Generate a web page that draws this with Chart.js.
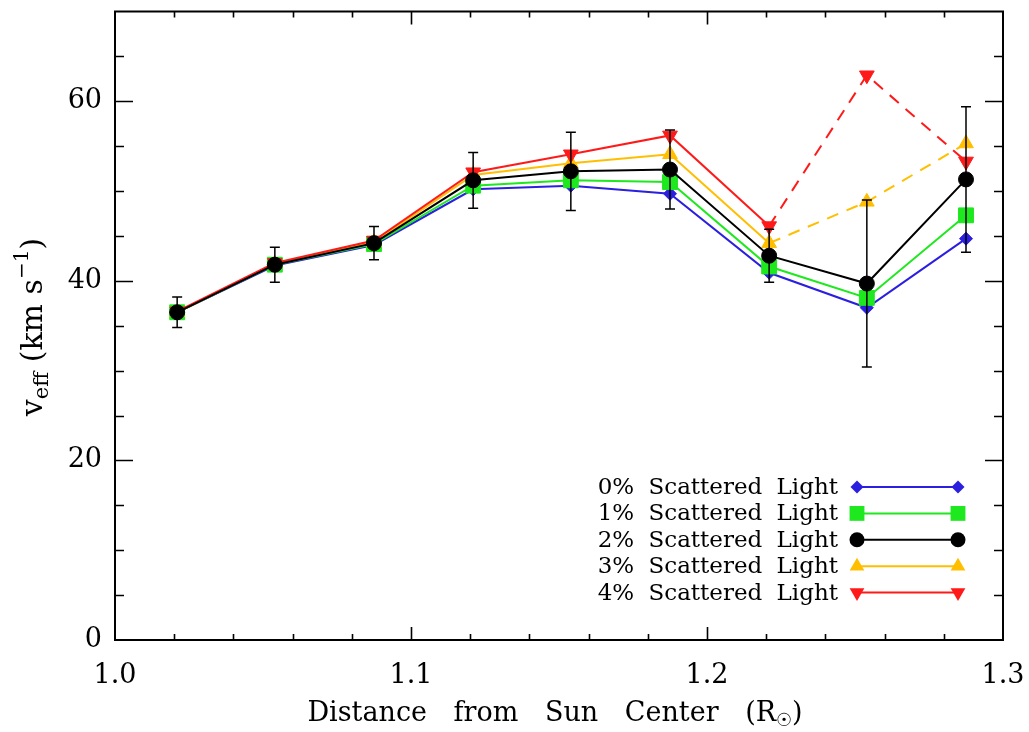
<!DOCTYPE html>
<html>
<head>
<meta charset="utf-8">
<script src="https://cdn.jsdelivr.net/npm/chart.js@4.4.1/dist/chart.umd.min.js"></script>
<style>
    html, body { margin: 0; padding: 0; background: #fff; }
    #wrap { width: 1029px; height: 732px; }
</style>
</head>
<body>
<div id="wrap"><canvas id="chart" width="1029" height="732"></canvas></div>
<script>
// Distance from sun center (R_sun)
const distance = [1.021, 1.054, 1.0875, 1.121, 1.154, 1.1875, 1.221, 1.254, 1.2875];

// v_eff (km/s) for each scattered light fraction
const scat0 = [36.5, 41.7, 44.0, 50.2, 50.6, 49.7, 40.9, 37.0, 44.7];
const scat1 = [36.5, 41.8, 44.1, 50.6, 51.2, 51.0, 41.6, 38.1, 47.3];
const scat2 = [36.5, 41.8, 44.2, 51.2, 52.2, 52.4, 42.8, 39.7, 51.3];
const scat3 = [36.5, 41.9, 44.3, 51.8, 53.1, 54.1, 44.2, 48.8, 55.3];
const scat4 = [36.6, 42.0, 44.5, 52.1, 54.1, 56.2, 46.1, 62.9, 53.3];

// error on the 2% curve (half width)
const err2 = [1.7, 1.95, 1.85, 3.1, 4.35, 4.4, 2.95, 9.3, 8.1];

const seriesLabels = ['0% Scattered Light', '1% Scattered Light', '2% Scattered Light',
                      '3% Scattered Light', '4% Scattered Light'];
const xTicks = [1.0, 1.1, 1.2, 1.3];
const yTicks = [0, 20, 40, 60];

const FONT = "'DejaVu Serif', serif";

function pts(vals) {
    return distance.map((d, i) => ({ x: d, y: vals[i] }));
}

// dashed segments after 1.22 for the 3% and 4% curves
const dashTail = ctx => ctx.p0DataIndex >= 6 ? [12, 9] : undefined;

function makeSet(label, vals, color, style, radius, order, extra) {
    return Object.assign({
        label: label,
        data: pts(vals),
        showLine: true,
        borderColor: color,
        backgroundColor: color,
        borderWidth: 2,
        pointStyle: style,
        pointRadius: radius,
        pointHoverRadius: radius,
        pointBackgroundColor: color,
        pointBorderColor: color,
        pointBorderWidth: 1,
        order: order
    }, extra || {});
}

const datasets = [
    makeSet(seriesLabels[0], scat0, '#2b1fe0', 'rectRot', 6.5, 4),
    makeSet(seriesLabels[1], scat1, '#1ee81e', 'rect', 10.5, 3),
    makeSet(seriesLabels[2], scat2, '#000000', 'circle', 7.5, 0),
    makeSet(seriesLabels[3], scat3, '#ffbf00', 'triangle', 8.5, 2, { segment: { borderDash: dashTail } }),
    makeSet(seriesLabels[4], scat4, '#ff1a1a', 'triangle', 8.5, 1, { segment: { borderDash: dashTail }, pointRotation: 180 })
];

// error bars under the black circles
const errorBars = {
    id: 'errorBars',
    beforeDatasetDraw(chart, args) {
        if (args.index !== 2) return;
        const { ctx, scales: { x, y } } = chart;
        ctx.save();
        ctx.strokeStyle = '#000';
        ctx.lineWidth = 1.5;
        distance.forEach((d, i) => {
            const px = x.getPixelForValue(d);
            const top = y.getPixelForValue(scat2[i] + err2[i]);
            const bot = y.getPixelForValue(scat2[i] - err2[i]);
            ctx.beginPath();
            ctx.moveTo(px, top); ctx.lineTo(px, bot);
            ctx.moveTo(px - 5, top); ctx.lineTo(px + 5, top);
            ctx.moveTo(px - 5, bot); ctx.lineTo(px + 5, bot);
            ctx.stroke();
        });
        ctx.restore();
    }
};

// box frame with inward ticks on all four sides
const frameTicks = {
    id: 'frameTicks',
    afterDraw(chart) {
        const { ctx, chartArea: a, scales: { x, y } } = chart;
        ctx.save();
        ctx.strokeStyle = '#000';
        ctx.lineWidth = 1.6;
        ctx.beginPath();
        const nx = Math.round((x.max - x.min) / 0.02);
        for (let i = 1; i < nx; i++) {
            const px = Math.round(x.getPixelForValue(x.min + i * 0.02)) + 0.5;
            const len = i % 5 === 0 ? 13 : 6;
            ctx.moveTo(px, a.bottom); ctx.lineTo(px, a.bottom - len);
            ctx.moveTo(px, a.top); ctx.lineTo(px, a.top + len);
        }
        const ny = Math.round((y.max - y.min) / 5);
        for (let i = 1; i < ny; i++) {
            const v = y.min + i * 5;
            const py = Math.round(y.getPixelForValue(v)) + 0.5;
            const len = v % 20 === 0 ? 18 : 9;
            ctx.moveTo(a.left, py); ctx.lineTo(a.left + len, py);
            ctx.moveTo(a.right, py); ctx.lineTo(a.right - len, py);
        }
        ctx.stroke();
        ctx.lineWidth = 2;
        ctx.strokeRect(a.left, a.top, a.right - a.left, a.bottom - a.top);
        ctx.restore();
    }
};

// legend: label on the left, line with markers on the right
const sideLegend = {
    id: 'sideLegend',
    afterDraw(chart) {
        const ctx = chart.ctx;
        ctx.save();
        ctx.font = '23px ' + FONT;
        ctx.wordSpacing = '7px';
        ctx.textAlign = 'right';
        ctx.textBaseline = 'middle';
        chart.data.datasets.forEach((ds, i) => {
            const yy = 487 + i * 26.4;
            ctx.fillStyle = '#000';
            ctx.fillText(ds.label, 838, yy + 1);
            ctx.strokeStyle = ds.borderColor;
            ctx.lineWidth = 2;
            ctx.setLineDash([]);
            ctx.beginPath();
            ctx.moveTo(857, yy); ctx.lineTo(958, yy);
            ctx.stroke();
            ctx.fillStyle = ds.pointBackgroundColor;
            [857, 958].forEach(px => {
                Chart.helpers.drawPoint(ctx, {
                    pointStyle: ds.pointStyle,
                    radius: ds.pointRadius,
                    rotation: ds.pointRotation || 0,
                    borderWidth: 0
                }, px, yy);
            });
        });
        ctx.restore();
    }
};

// text made of pieces with sub/superscripts
function drawRich(ctx, parts, cx, base, angle, wordGap) {
    ctx.save();
    ctx.translate(cx, base);
    ctx.rotate(angle);
    ctx.fillStyle = '#000';
    ctx.textAlign = 'left';
    ctx.textBaseline = 'alphabetic';
    ctx.wordSpacing = wordGap + 'px';
    let total = 0;
    parts.forEach(p => {
        ctx.font = p.size + 'px ' + FONT;
        p.w = ctx.measureText(p.t).width;
        total += p.w;
    });
    let xx = -total / 2;
    parts.forEach(p => {
        ctx.font = p.size + 'px ' + FONT;
        ctx.fillText(p.t, xx, p.dy || 0);
        xx += p.w;
    });
    ctx.restore();
}

const axisTitles = {
    id: 'axisTitles',
    afterDraw(chart) {
        const ctx = chart.ctx;
        drawRich(ctx, [
            { t: 'Distance from Sun Center (R', size: 27 },
            { t: '\u2609', size: 18, dy: 5 },
            { t: ')', size: 27 }
        ], 555, 721, 0, 18);
        drawRich(ctx, [
            { t: 'v', size: 30 },
            { t: 'eff', size: 21, dy: 6 },
            { t: ' (km s', size: 30 },
            { t: '\u22121', size: 20, dy: -14 },
            { t: ')', size: 30 }
        ], 42, 327, -Math.PI / 2, 16);
    }
};

Chart.defaults.font.family = FONT;
Chart.defaults.color = '#000';

new Chart(document.getElementById('chart').getContext('2d'), {
    type: 'scatter',
    data: { datasets: datasets },
    options: {
        responsive: false,
        animation: false,
        layout: { padding: { top: 11, right: 26, left: 0, bottom: 0 } },
        plugins: {
            legend: { display: false },
            tooltip: { enabled: false }
        },
        scales: {
            x: {
                type: 'linear',
                min: 1.0,
                max: 1.3,
                afterBuildTicks: s => { s.ticks = xTicks.map(v => ({ value: v })); },
                afterFit: s => {
                    s.height = 92;
                    s.paddingLeft = 0;
                    s.paddingRight = 0;
                },
                grid: { display: false, drawTicks: false },
                border: { display: false },
                ticks: {
                    padding: 20,
                    maxRotation: 0,
                    font: { size: 27 },
                    color: '#000',
                    callback: v => v.toFixed(1)
                }
            },
            y: {
                type: 'linear',
                min: 0,
                max: 70,
                afterBuildTicks: s => { s.ticks = yTicks.map(v => ({ value: v })); },
                afterFit: s => {
                    s.width = 115;
                    s.paddingTop = 0;
                    s.paddingBottom = 0;
                },
                grid: { display: false, drawTicks: false },
                border: { display: false },
                ticks: {
                    padding: 13,
                    font: { size: 27 },
                    color: '#000'
                }
            }
        }
    },
    plugins: [errorBars, frameTicks, sideLegend, axisTitles]
});
</script>
</body>
</html>
